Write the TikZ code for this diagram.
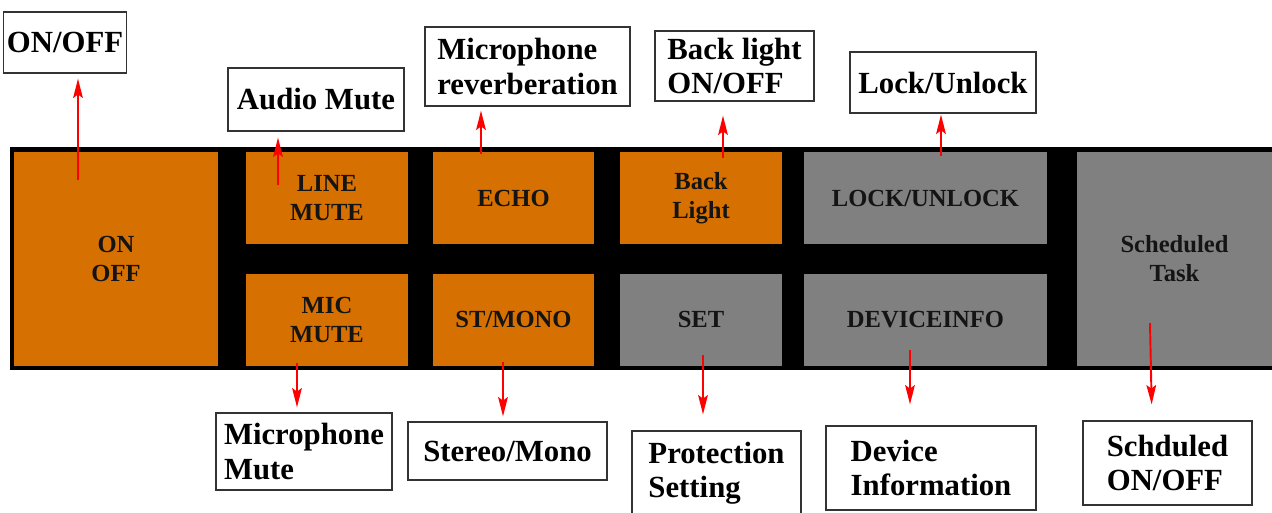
\documentclass[tikz,border=0pt]{standalone}
\usepackage{fontspec}
\setmainfont{Liberation Serif}
\usetikzlibrary{arrows.meta}
\definecolor{keyorange}{RGB}{214,112,0}
\definecolor{keygray}{RGB}{128,128,128}

\begin{document}
\begin{tikzpicture}[
    x=0.02cm, y=-0.02cm,
    key/.style={minimum width=3.24cm, minimum height=1.84cm, inner sep=0pt, align=center,
      font=\fontsize{14}{16.5}\selectfont\bfseries, text=black!92},
    lbl/.style={draw=black!80, line width=0.7pt, fill=white, inner sep=2pt, align=left,
      font=\fontsize{17.5}{19.5}\selectfont\bfseries},
    arr/.style={-{Stealth[length=11pt,width=5.5pt,inset=2pt]}, red, line width=1.1pt}
  ]
    \useasboundingbox (0,0) rectangle (1272,512);

    % panel
    \fill[black] (10,147) rectangle (1272,370);

    \node[key, fill=keyorange, minimum width=4.08cm, minimum height=4.28cm] (onoff) at (116,259) {ON\\OFF};
    \node[key, fill=keyorange] (linemute) at (327,198)   {LINE\\MUTE};
    \node[key, fill=keyorange] (micmute)  at (327,319.5) {MIC\\MUTE};
    \node[key, fill=keyorange, minimum width=3.22cm] (echo)   at (513.5,198)   {ECHO};
    \node[key, fill=keyorange, minimum width=3.22cm] (stmono) at (513.5,319.5) {ST/MONO};
    \node[key, fill=keyorange] (backlight) at (701,198)   {Back\\Light};
    \node[key, fill=keygray]   (set)       at (701,319.5) {SET};
    \node[key, fill=keygray, minimum width=4.86cm] (lock)    at (925.5,198)   {LOCK/UNLOCK};
    \node[key, fill=keygray, minimum width=4.86cm] (devinfo) at (925.5,319.5) {DEVICEINFO};
    \node[key, fill=keygray, minimum width=3.9cm, minimum height=4.28cm] (sched) at (1174.5,259) {Scheduled\\Task};

    % labels above
    \node[lbl, minimum width=2.4cm,  minimum height=1.22cm] (l-onoff)  at (65,42.5)   {ON/OFF};
    \node[lbl, minimum width=3.52cm, minimum height=1.26cm] (l-audio)  at (316,99.5)  {Audio Mute};
    \node[lbl, minimum width=4.1cm,  minimum height=1.58cm] (l-reverb) at (527.5,66.5) {Microphone\\reverberation};
    \node[lbl, minimum width=3.18cm, minimum height=1.4cm]  (l-back)   at (734.5,66)  {Back light\\ON/OFF};
    \node[lbl, minimum width=3.72cm, minimum height=1.22cm] (l-lock)   at (943,82.5)  {Lock/Unlock};

    % labels below
    \node[lbl, minimum width=3.52cm, minimum height=1.54cm] (l-micmute) at (304,451.5)  {Microphone\\Mute};
    \node[lbl, minimum width=3.98cm, minimum height=1.16cm] (l-stereo)  at (507.5,451)  {Stereo/Mono};
    \node[lbl, minimum width=3.38cm, minimum height=1.7cm]  (l-prot)    at (716.5,473.5) {Protection\\Setting};
    \node[lbl, minimum width=4.2cm,  minimum height=1.68cm] (l-dev)     at (931,468)    {Device\\Information};
    \node[lbl, minimum width=3.38cm, minimum height=1.68cm] (l-sched)   at (1167.5,463) {Schduled\\ON/OFF};

    % arrow tails inside the keys
    \coordinate (p-onoff)  at (78,180);
    \coordinate (p-line)   at (278,185);
    \coordinate (p-echo)   at (481,154);
    \coordinate (p-back)   at (723,158);
    \coordinate (p-lock)   at (941,156);
    \coordinate (p-mic)    at (297,363);
    \coordinate (p-st)     at (503,362);
    \coordinate (p-set)    at (703,355);
    \coordinate (p-dev)    at (910,350);
    \coordinate (p-sched)  at (1150,323);

    \draw[arr, shorten >=0.1cm]  (p-onoff) -- (p-onoff |- l-onoff.south);
    \draw[arr, shorten >=0.12cm] (p-line)  -- (p-line |- l-audio.south);
    \draw[arr, shorten >=0.08cm] (p-echo)  -- (p-echo |- l-reverb.south);
    \draw[arr, shorten >=0.28cm] (p-back)  -- (p-back |- l-back.south);
    \draw[arr, shorten >=0.02cm] (p-lock)  -- (p-lock |- l-lock.south);

    \draw[arr, shorten >=0.1cm]  (p-mic)   -- (p-mic |- l-micmute.north);
    \draw[arr, shorten >=0.1cm]  (p-st)    -- (p-st |- l-stereo.north);
    \draw[arr, shorten >=0.32cm] (p-set)   -- (p-set |- l-prot.north);
    \draw[arr, shorten >=0.42cm] (p-dev)   -- (p-dev |- l-dev.north);
    \draw[arr, shorten >=0.32cm] (p-sched) -- ([xshift=0.04cm]p-sched |- l-sched.north);
  \end{tikzpicture}
\end{document}
